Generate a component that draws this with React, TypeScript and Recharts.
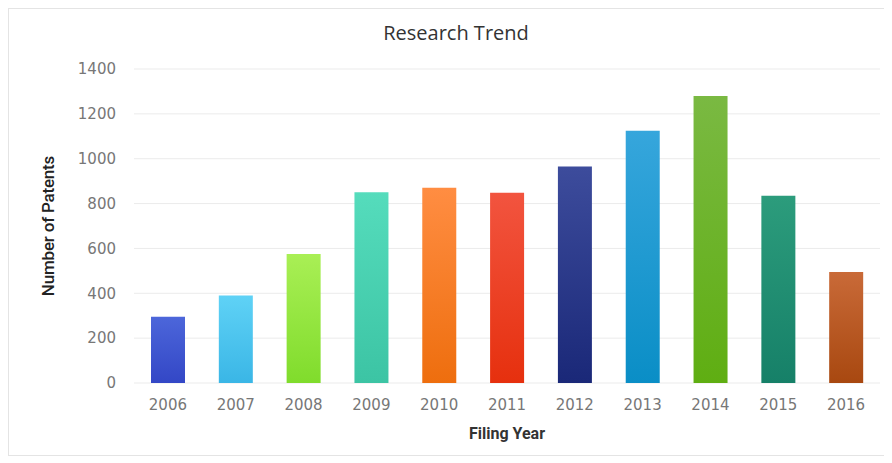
import { BarChart, Bar, XAxis, YAxis, CartesianGrid, Cell } from 'recharts';

const years = ['2006', '2007', '2008', '2009', '2010', '2011', '2012', '2013', '2014', '2015', '2016'];
const patents = [295, 390, 575, 850, 870, 848, 965, 1125, 1280, 835, 495];
const yTicks = [0, 200, 400, 600, 800, 1000, 1200, 1400];

// top / bottom colour of each bar's gradient
const topColors = ['#4c66da', '#5fd2f6', '#a9ef55', '#55dcbc', '#ff8d42', '#f2543f', '#3d4c9c', '#36a6dc', '#7ab942', '#2c9c7c', '#c96a38'];
const bottomColors = ['#3347c6', '#3ab6e6', '#80dc2c', '#3cc4a4', '#ee6e0e', '#e6300e', '#1a2878', '#0a8ec6', '#5fae12', '#168068', '#a84810'];

const data = years.map((year, i) => ({ year, patents: patents[i] }));

const tickStyle = { fontFamily: 'DejaVu Sans', fontSize: 15, fill: '#777' };

const App = () => {
  return (
    <div
      style={{
        position: 'relative',
        width: 878,
        height: 446,
        borderTop: '1px solid #e4e4e4',
        borderLeft: '1px solid #e4e4e4',
        borderBottom: '1px solid #e4e4e4',
        background: '#fff',
      }}
    >
      <div
        style={{
          position: 'absolute',
          top: 10,
          left: 0,
          width: 894,
          textAlign: 'center',
          fontFamily: 'Open Sans',
          fontSize: 20,
          color: '#333',
        }}
      >
        Research Trend
      </div>
      <BarChart
        width={876}
        height={446}
        data={data}
        margin={{ top: 60, right: 5, left: 0, bottom: 42 }}
      >
        <defs>
          {years.map((y, i) => (
            <linearGradient key={y} id={`grad${i}`} x1='0' y1='0' x2='0' y2='1'>
              <stop offset='0%' stopColor={topColors[i]} />
              <stop offset='100%' stopColor={bottomColors[i]} />
            </linearGradient>
          ))}
        </defs>
        <CartesianGrid vertical={false} stroke='#ebebeb' />
        <XAxis
          dataKey='year'
          height={30}
          axisLine={false}
          tickLine={false}
          tickMargin={10}
          tick={tickStyle}
          label={{
            value: 'Filing Year',
            position: 'bottom',
            offset: 15,
            style: { fontFamily: 'Roboto', fontWeight: 'bold', fontSize: 16, fill: '#333' },
          }}
        />
        <YAxis
          width={125}
          domain={[0, 1400]}
          ticks={yTicks}
          axisLine={false}
          tickLine={false}
          tickMargin={12}
          tick={tickStyle}
          label={{
            value: 'Number of Patents',
            angle: -90,
            position: 'center',
            dx: -24,
            style: { fontFamily: 'Roboto', fontWeight: 500, fontSize: 17, fill: '#222', letterSpacing: -0.2, textAnchor: 'middle' },
          }}
        />
        <Bar dataKey='patents' barSize={34} isAnimationActive={false}>
          {data.map((d, i) => (
            <Cell key={d.year} fill={`url(#grad${i})`} />
          ))}
        </Bar>
      </BarChart>
    </div>
  );
};

export default App;
